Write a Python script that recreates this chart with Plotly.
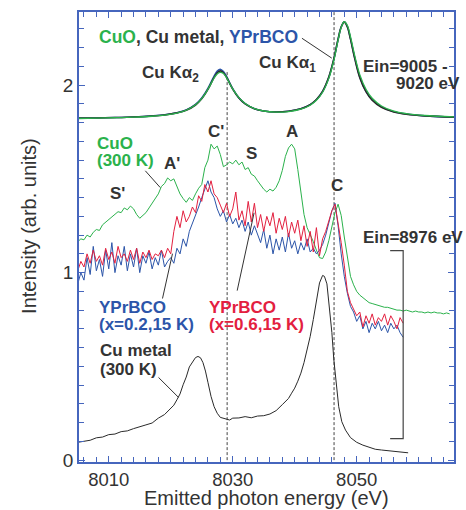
import plotly.graph_objects as go

# ---------------- data ----------------
# Top: Cu K-alpha spectra (Ein = 9005-9020 eV)
e_top = [8005, 8008, 8011, 8014, 8017, 8019, 8021, 8022.5, 8024, 8025, 8026, 8027, 8027.5, 8028,
         8028.5, 8029, 8030, 8031, 8032, 8033.5, 8035, 8037, 8039, 8041, 8042.5, 8043.5, 8044.5,
         8045.5, 8046.3, 8047, 8047.5, 8048, 8048.5, 8049, 8049.7, 8050.5, 8051.5, 8052.5, 8054,
         8056, 8058, 8061, 8066]
top_cu_metal = [1.824, 1.825, 1.827, 1.830, 1.835, 1.841, 1.852, 1.866, 1.894, 1.927, 1.977, 2.041,
                2.066, 2.076, 2.066, 2.042, 1.979, 1.931, 1.900, 1.874, 1.862, 1.857, 1.861, 1.874,
                1.896, 1.923, 1.967, 2.043, 2.138, 2.245, 2.310, 2.336, 2.310, 2.245, 2.140, 2.040,
                1.965, 1.920, 1.882, 1.857, 1.845, 1.836, 1.829]
top_cuo = [1.822, 1.824, 1.826, 1.829, 1.834, 1.840, 1.851, 1.866, 1.895, 1.928, 1.978, 2.038,
           2.060, 2.068, 2.062, 2.040, 1.980, 1.933, 1.902, 1.875, 1.862, 1.856, 1.859, 1.872,
           1.893, 1.919, 1.962, 2.036, 2.130, 2.240, 2.308, 2.338, 2.318, 2.258, 2.155, 2.056,
           1.978, 1.930, 1.889, 1.861, 1.848, 1.838, 1.830]
top_yprbco = [1.823, 1.825, 1.827, 1.830, 1.836, 1.842, 1.853, 1.868, 1.897, 1.931, 1.982, 2.048,
              2.075, 2.085, 2.072, 2.046, 1.981, 1.932, 1.901, 1.874, 1.862, 1.857, 1.861, 1.874,
              1.896, 1.922, 1.966, 2.041, 2.136, 2.244, 2.310, 2.338, 2.312, 2.248, 2.144, 2.043,
              1.967, 1.922, 1.884, 1.858, 1.846, 1.836, 1.829]

# Middle: Ein = 8976 eV spectra, 0.5 eV grid starting at 8005.0 eV
e_start = 8005.0
e_step = 0.5
cuo_300k = [1.165, 1.180, 1.175, 1.200, 1.190, 1.215, 1.230, 1.225, 1.255, 1.270, 1.285, 1.300,
            1.310, 1.325, 1.320, 1.345, 1.335, 1.355, 1.340, 1.310, 1.290, 1.305, 1.320, 1.345,
            1.370, 1.400, 1.420, 1.460, 1.475, 1.505, 1.490, 1.500, 1.460, 1.420, 1.395, 1.375,
            1.400, 1.385, 1.420, 1.450, 1.470, 1.560, 1.600, 1.685, 1.660, 1.675, 1.630, 1.565,
            1.575, 1.590, 1.580, 1.600, 1.575, 1.590, 1.550, 1.560, 1.525, 1.515, 1.490, 1.465,
            1.445, 1.430, 1.445, 1.435, 1.455, 1.490, 1.545, 1.620, 1.665, 1.685, 1.660, 1.550,
            1.420, 1.310, 1.240, 1.205, 1.165, 1.120, 1.080, 1.075, 1.110, 1.170, 1.250, 1.320,
            1.365, 1.305, 1.190, 1.090, 0.980, 0.935, 0.900, 0.880, 0.865, 0.850, 0.840, 0.835,
            0.830, 0.825, 0.820, 0.815, 0.815, 0.810, 0.805, 0.800, 0.800, 0.795, 0.800, 0.795,
            0.790, 0.795, 0.790, 0.790, 0.785, 0.790, 0.785, 0.790, 0.785, 0.785, 0.780, 0.785,
            0.780]
yprbco_x06 = [1.01, 1.06, 1.03, 1.10, 1.05, 1.12, 1.06, 1.09, 1.04, 1.13, 1.07, 1.11, 1.05, 1.14,
              1.08, 1.10, 1.06, 1.12, 1.07, 1.13, 1.05, 1.11, 1.08, 1.12, 1.07, 1.10, 1.09, 1.12,
              1.08, 1.13, 1.10, 1.22, 1.30, 1.24, 1.33, 1.27, 1.30, 1.35, 1.32, 1.41, 1.38, 1.47,
              1.43, 1.49, 1.42, 1.40, 1.36, 1.32, 1.37, 1.30, 1.34, 1.43, 1.28, 1.33, 1.25, 1.38,
              1.27, 1.37, 1.24, 1.31, 1.22, 1.30, 1.25, 1.32, 1.21, 1.29, 1.23, 1.30, 1.19, 1.27,
              1.21, 1.28, 1.17, 1.25, 1.14, 1.22, 1.11, 1.24, 1.09, 1.18, 1.22, 1.28, 1.33, 1.365,
              1.27, 1.16, 1.04, 0.90, 0.84, 0.80, 0.77, 0.79, 0.71, 0.77, 0.73, 0.78, 0.72, 0.76,
              0.74, 0.78, 0.72, 0.77, 0.74, 0.70, 0.76, 0.73]
yprbco_x02 = [0.94, 1.00, 0.96, 1.08, 0.99, 1.14, 1.01, 1.07, 0.98, 1.12, 1.02, 1.16, 1.00, 1.09,
              1.04, 1.14, 1.01, 1.10, 1.03, 1.13, 1.00, 1.09, 1.05, 1.11, 1.02, 1.08, 1.04, 1.12,
              1.03, 1.06, 1.08, 1.05, 1.13, 1.10, 1.18, 1.14, 1.22, 1.26, 1.30, 1.35, 1.40, 1.45,
              1.49, 1.43, 1.40, 1.34, 1.30, 1.33, 1.27, 1.31, 1.26, 1.29, 1.24, 1.28, 1.22, 1.27,
              1.20, 1.25, 1.21, 1.16, 1.23, 1.13, 1.20, 1.10, 1.18, 1.12, 1.19, 1.11, 1.21, 1.13,
              1.17, 1.10, 1.16, 1.12, 1.18, 1.11, 1.13, 1.10, 1.12, 1.15, 1.20, 1.27, 1.33, 1.37,
              1.25, 1.10, 0.98, 0.89, 0.82, 0.79, 0.74, 0.77, 0.70, 0.74, 0.68, 0.73, 0.70, 0.74,
              0.69, 0.72, 0.68, 0.73, 0.70, 0.72, 0.68, 0.655]

# Bottom: Cu metal (300 K), Ein = 8976 eV
e_metal = [8005.0, 8006, 8007, 8008, 8009, 8010, 8011, 8012, 8013, 8014, 8015, 8016, 8017, 8018,
           8019, 8020, 8020.5, 8021, 8021.5, 8022, 8022.5, 8023, 8023.5, 8024, 8024.4, 8024.8,
           8025.2, 8025.6, 8026, 8026.5, 8027, 8027.5, 8028, 8028.5, 8029, 8029.5, 8030, 8031,
           8032, 8033, 8034, 8035, 8036, 8037, 8038, 8039, 8039.5, 8040, 8040.5, 8041, 8041.5,
           8042, 8042.5, 8043, 8043.5, 8044, 8044.5, 8044.8, 8045.2, 8045.6, 8046, 8046.3,
           8046.7, 8047.1, 8047.6, 8048.2, 8049, 8050, 8051, 8052, 8053, 8054, 8055, 8056, 8057,
           8058.3]
cu_metal_300k = [0.095, 0.102, 0.106, 0.119, 0.123, 0.136, 0.139, 0.152, 0.156, 0.168, 0.176,
                 0.188, 0.198, 0.224, 0.243, 0.278, 0.293, 0.322, 0.353, 0.402, 0.443, 0.497,
                 0.523, 0.547, 0.553, 0.546, 0.520, 0.475, 0.415, 0.340, 0.285, 0.250, 0.228,
                 0.222, 0.216, 0.214, 0.224, 0.225, 0.232, 0.226, 0.235, 0.237, 0.246, 0.264,
                 0.296, 0.329, 0.357, 0.384, 0.421, 0.464, 0.520, 0.585, 0.660, 0.750, 0.860,
                 0.945, 0.985, 0.980, 0.940, 0.820, 0.680, 0.540, 0.400, 0.285, 0.205, 0.160,
                 0.120, 0.095, 0.080, 0.068, 0.058, 0.054, 0.050, 0.047, 0.044, 0.039]

# reference lines / axes
dashed_e = [8029.1, 8046.35]
x_tickvals = [8010, 8030, 8050]
y_tickvals = [0, 1, 2]

# ---------------- styles ----------------
GREEN = "#2bb24c"
RED = "#e3203f"
BLUE = "#2c55a9"
BLACK = "#2a2a2a"
TXT = "#333333"
AXC = "#4666bd"
FONT = "Liberation Sans, Arial, sans-serif"

e_grid = lambda vals: [e_start + e_step * i for i in range(len(vals))]

fig = go.Figure()

# dashed vertical guide lines
fig.add_trace(go.Scatter(x=[dashed_e[0], dashed_e[0]], y=[0, 2.07], mode="lines",
                         line=dict(color="#444", width=1, dash="3px,2px"), hoverinfo="skip"))
fig.add_trace(go.Scatter(x=[dashed_e[1], dashed_e[1]], y=[0, 2.39], mode="lines",
                         line=dict(color="#444", width=1, dash="3px,2px"), hoverinfo="skip"))

# top spectra
fig.add_trace(go.Scatter(x=e_top, y=top_yprbco, mode="lines", line=dict(color=BLUE, width=1.6, shape="spline")))
fig.add_trace(go.Scatter(x=e_top, y=top_cu_metal, mode="lines", line=dict(color=BLACK, width=1.6, shape="spline")))
fig.add_trace(go.Scatter(x=e_top, y=top_cuo, mode="lines", line=dict(color=GREEN, width=1.3, shape="spline")))

# middle spectra
fig.add_trace(go.Scatter(x=e_grid(cuo_300k), y=cuo_300k, mode="lines", line=dict(color=GREEN, width=1)))
fig.add_trace(go.Scatter(x=e_grid(yprbco_x02), y=yprbco_x02, mode="lines", line=dict(color=BLUE, width=1)))
fig.add_trace(go.Scatter(x=e_grid(yprbco_x06), y=yprbco_x06, mode="lines", line=dict(color=RED, width=1)))

# bottom spectrum
fig.add_trace(go.Scatter(x=e_metal, y=cu_metal_300k, mode="lines", line=dict(color=BLACK, width=1)))

# leader lines
leaders = [
    ([8041.17, 8045.98], [2.25, 2.144]),
    ([8015.9, 8018.3], [1.543, 1.454]),
    ([8018.67, 8020.28], [0.862, 1.101]),
    ([8030.72, 8033.45], [0.904, 1.319]),
    ([8018.03, 8021.24], [0.441, 0.335]),
]
for lx, ly in leaders:
    fig.add_trace(go.Scatter(x=lx, y=ly, mode="lines", line=dict(color="#333", width=1), hoverinfo="skip"))

# bracket for Ein=8976 eV
fig.add_trace(go.Scatter(x=[8055.4, 8057.5, 8057.5, 8055.4], y=[1.117, 1.117, 0.115, 0.115],
                         mode="lines", line=dict(color="#444", width=1.2), hoverinfo="skip"))

anns = []


def ann(text, x, y, color=TXT, xanchor="center", size=17):
    anns.append(dict(text=text, x=x, y=y, xref="x", yref="y", showarrow=False, xanchor=xanchor,
                     yanchor="middle", font=dict(family=FONT, size=size, color=color)))


B = lambda s: "<b>" + s + "</b>"
ann(B(f'<span style="color:{GREEN}">CuO</span>, Cu metal, <span style="color:{BLUE}">YPrBCO</span>'),
    8008.07, 2.255, xanchor="left", size=17.5)
ann(B("Cu Kα<sub>2</sub>"), 8019.96, 2.059)
ann(B("Cu Kα<sub>1</sub>"), 8038.9, 2.112)
ann(B("Ein=9005 -"), 8050.64, 2.101, xanchor="left")
ann(B("9020 eV"), 8055.94, 2.011, xanchor="left")
ann(B("C'"), 8027.35, 1.755)
ann(B("A"), 8039.56, 1.755)
ann(B("S"), 8032.97, 1.638)
ann(B("A'"), 8020.28, 1.58)
ann(B("S'"), 8011.45, 1.42)
ann(B("C"), 8046.8, 1.463)
ann(B("CuO"), 8007.75, 1.691, GREEN, "left")
ann(B("(300 K)"), 8007.75, 1.596, GREEN, "left")
ann(B("YPrBCO"), 8008.07, 0.815, BLUE, "left")
ann(B("(x=0.2,15 K)"), 8008.07, 0.724, BLUE, "left")
ann(B("YPrBCO"), 8025.9, 0.815, RED, "left")
ann(B("(x=0.6,15 K)"), 8025.9, 0.724, RED, "left")
ann(B("Cu metal"), 8008.23, 0.585, xanchor="left")
ann(B("(300 K)"), 8008.23, 0.484, xanchor="left")
ann(B("Ein=8976 eV"), 8050.64, 1.188, xanchor="left")

# axis titles
anns.append(dict(text="Intensity (arb. units)", x=-0.135, y=0.5255, xref="paper", yref="paper",
                 showarrow=False, textangle=-90, xanchor="center", yanchor="middle",
                 font=dict(family=FONT, size=20, color=TXT)))
anns.append(dict(text="Emitted photon energy (eV)", x=0.5, y=-0.08, xref="paper", yref="paper",
                 showarrow=False, xanchor="center", yanchor="middle",
                 font=dict(family=FONT, size=20, color=TXT)))

fig.update_layout(
    width=466, height=510,
    margin=dict(l=79, r=10, t=11, b=48),
    paper_bgcolor="white", plot_bgcolor="white",
    showlegend=False,
    annotations=anns,
    xaxis=dict(range=[8005.2, 8065.7], showgrid=False, zeroline=False, showline=True,
               linecolor=AXC, linewidth=1.5, mirror="allticks", ticks="inside", ticklen=6,
               tickcolor=AXC, tickwidth=1, tickvals=x_tickvals,
               tickfont=dict(family=FONT, size=18.5, color=TXT),
               minor=dict(ticks="inside", dtick=2, tick0=8010, ticklen=5, tickcolor=AXC, tickwidth=1)),
    yaxis=dict(range=[-0.01, 2.39], showgrid=False, zeroline=False, showline=True,
               linecolor=AXC, linewidth=1.5, mirror="allticks", ticks="inside", ticklen=6,
               tickcolor=AXC, tickwidth=1, tickvals=y_tickvals,
               tickfont=dict(family=FONT, size=19, color=TXT),
               minor=dict(ticks="inside", dtick=0.1, tick0=0, ticklen=5, tickcolor=AXC, tickwidth=1)),
)

fig.write_html("out.html", config={"displayModeBar": False},
               post_script="document.body.style.margin='0';document.body.style.overflow='hidden';")
